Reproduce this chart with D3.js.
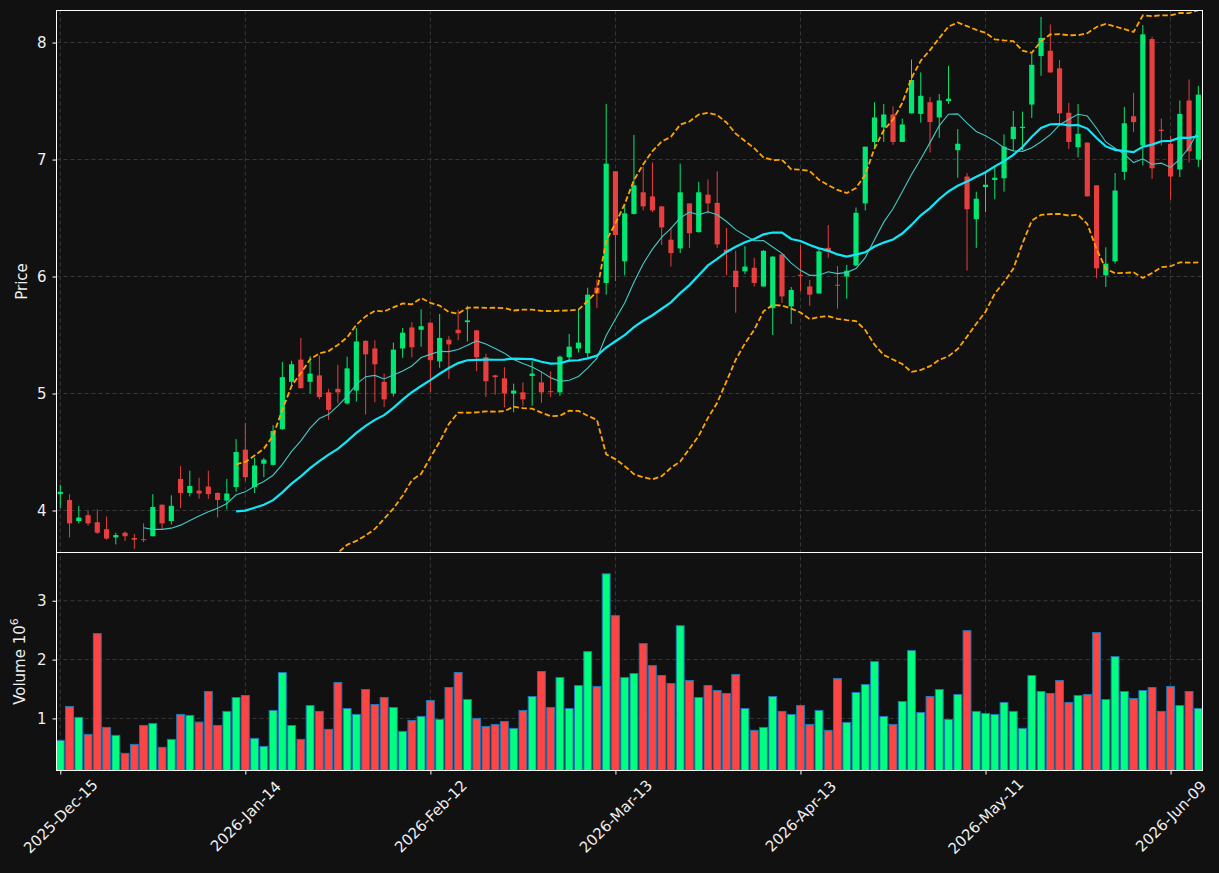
<!DOCTYPE html>
<html><head><meta charset="utf-8">
<script src="https://cdn.jsdelivr.net/npm/d3@7"></script>
<style>html,body{margin:0;padding:0;background:#111111;} svg{display:block;font-family:"DejaVu Sans",sans-serif;}</style>
</head><body><svg id="chart" width="1219" height="873"></svg>
<script>
// ---------- data ----------
const openP = [4.14,4.09,3.91,3.96,3.90,3.84,3.77,3.81,3.765,3.755,
3.78,4.05,3.91,4.27,4.15,4.17,4.205,4.15,4.085,4.20,
4.52,4.20,4.40,4.39,4.695,5.10,5.29,5.10,5.155,5.01,
5.04,4.915,5.025,5.45,5.385,5.10,5.00,5.385,5.565,5.545,
5.605,5.275,5.46,5.545,5.61,5.54,5.31,5.155,5.13,5.00,
5.01,5.15,5.095,5.02,5.01,5.31,5.385,5.345,5.905,5.945,
6.90,6.13,6.535,6.72,6.685,6.60,6.315,6.24,6.625,6.38,
6.70,6.63,6.23,6.05,6.045,6.075,5.915,5.73,6.19,5.745,
6.015,5.915,5.855,6.245,5.93,6.00,6.095,6.625,7.15,7.275,
7.385,7.15,7.395,7.39,7.49,7.36,7.50,7.08,6.855,6.49,
6.765,6.825,6.84,7.175,7.27,7.47,7.885,7.93,7.78,7.40,
7.105,7.145,6.78,6.01,6.13,6.895,7.37,7.12,8.03,7.255,
7.135,6.915,7.505,7.00];
const highP = [4.22,4.14,4.04,4.00,4.01,3.95,3.81,3.82,3.80,3.89,
4.14,4.05,4.13,4.38,4.34,4.28,4.34,4.155,4.27,4.61,
4.75,4.45,4.45,4.73,5.27,5.28,5.475,5.32,5.325,5.04,
5.245,5.315,5.56,5.455,5.455,5.17,5.435,5.56,5.61,5.72,
5.61,5.68,5.49,5.715,5.75,5.545,5.34,5.16,5.225,5.085,
5.095,5.275,5.19,5.19,5.325,5.51,5.72,5.905,5.975,7.475,
6.90,6.62,7.21,6.94,6.975,6.60,6.42,6.965,6.625,6.81,
6.83,6.90,6.415,6.22,6.26,6.16,6.225,6.175,6.19,5.91,
6.27,5.97,6.23,6.44,6.09,6.10,6.59,7.11,7.49,7.475,
7.455,7.35,7.855,7.745,7.535,7.56,7.80,7.26,6.885,6.725,
6.89,6.935,7.215,7.415,7.41,7.905,8.22,8.155,7.85,7.485,
7.475,7.145,6.78,6.25,6.885,7.45,7.57,8.15,8.05,7.35,
7.205,7.505,7.685,7.63];
const lowP = [4.02,3.77,3.89,3.87,3.80,3.75,3.71,3.74,3.67,3.73,
3.78,3.84,3.88,4.02,4.12,4.10,4.10,3.94,4.01,4.16,
4.25,4.15,4.285,4.385,4.69,5.07,5.045,5.00,4.95,4.775,
4.92,4.905,4.93,4.82,4.925,4.885,4.975,5.305,5.31,5.40,
5.01,5.22,5.125,5.455,5.445,5.19,4.97,4.99,4.88,4.84,
4.895,4.895,4.92,4.97,4.98,5.27,5.35,5.31,5.73,5.845,
5.96,6.01,6.53,6.565,6.55,6.27,6.085,6.20,6.245,6.375,
6.535,6.245,6.01,5.69,6.02,5.915,5.915,5.50,5.775,5.595,
5.875,5.75,5.855,6.16,5.725,5.81,6.09,6.565,7.10,7.15,
7.125,7.15,7.395,7.315,7.06,7.185,7.475,6.845,6.05,6.245,
6.55,6.66,6.725,7.08,7.08,7.355,7.715,7.74,7.285,7.09,
7.02,6.685,5.985,5.91,6.11,6.825,7.235,6.95,6.835,7.12,
6.655,6.85,6.975,6.935];
const closeP = [4.16,3.89,3.94,3.89,3.81,3.76,3.79,3.78,3.75,3.75,
4.03,3.89,4.04,4.15,4.21,4.145,4.14,4.09,4.145,4.50,
4.285,4.385,4.435,4.68,5.14,5.25,5.045,5.17,4.97,4.86,
5.01,5.215,5.445,5.335,5.25,4.95,5.375,5.52,5.395,5.575,
5.285,5.475,5.42,5.515,5.625,5.31,5.105,5.14,5.00,5.025,
4.95,5.17,5.01,5.015,5.315,5.40,5.435,5.845,5.855,6.965,
6.355,6.54,6.78,6.60,6.565,6.42,6.20,6.72,6.37,6.72,
6.625,6.275,6.205,5.91,6.085,5.945,6.22,6.17,5.83,5.885,
6.005,5.845,6.215,6.21,5.925,6.05,6.545,7.11,7.36,7.385,
7.15,7.30,7.68,7.545,7.32,7.505,7.52,7.135,6.575,6.665,
6.785,6.845,7.11,7.28,7.28,7.81,8.04,7.745,7.395,7.15,
7.22,6.685,6.07,6.11,6.735,7.31,7.32,8.07,6.925,7.245,
6.855,7.39,7.07,7.555];
const volume = [627000,1203000,1017000,729000,2441000,847000,712000,407000,559000,881000,
915000,508000,644000,1068000,1051000,938000,1458000,881000,1119000,1356000,
1390000,661000,525000,1136000,1780000,881000,644000,1220000,1119000,814000,
1610000,1169000,1068000,1492000,1237000,1356000,1186000,780000,966000,1034000,
1305000,983000,1525000,1780000,1322000,1000000,864000,898000,949000,831000,
1136000,1373000,1797000,1186000,1695000,1169000,1559000,2136000,1542000,3458000,
2746000,1695000,1763000,2271000,1898000,1729000,1593000,2576000,1644000,1356000,
1559000,1475000,1424000,1746000,1169000,797000,847000,1373000,1119000,1068000,
1220000,898000,1136000,797000,1678000,932000,1441000,1576000,1966000,1034000,
898000,1288000,2153000,1102000,1373000,1492000,983000,1407000,2492000,1119000,
1085000,1068000,1271000,1119000,831000,1729000,1458000,1424000,1644000,1271000,
1390000,1407000,2458000,1322000,2051000,1458000,1339000,1475000,1525000,1119000,
1542000,1220000,1458000,1169000];
const tickIndex = [0,20,40,60,80,100,120];
const tickLabels = ["2025-Dec-15","2026-Jan-14","2026-Feb-12","2026-Mar-13","2026-Apr-13","2026-May-11","2026-Jun-09"];
const priceTicks = [4,5,6,7,8];
const volumeTicks = [1000000,2000000,3000000];
const maShortLen = 10, maLongLen = 20, bbK = 2;

// ---------- derived series (rolling stats of close) ----------
const n = closeP.length;
function rollMean(arr, w){ return arr.map((_,i)=> i<w-1 ? null : d3.mean(arr.slice(i-w+1,i+1))); }
function rollStd(arr, w){ return arr.map((_,i)=> i<w-1 ? null : d3.deviation(arr.slice(i-w+1,i+1))); }
const maShort = rollMean(closeP, maShortLen);
const maLong = rollMean(closeP, maLongLen);
const sd = rollStd(closeP, maLongLen);
const bbUp = maLong.map((m,i)=> m==null?null:m+bbK*sd[i]);
const bbLo = maLong.map((m,i)=> m==null?null:m-bbK*sd[i]);
const data = d3.range(n).map(i=>({i,o:openP[i],h:highP[i],l:lowP[i],c:closeP[i],v:volume[i],up:closeP[i]>=openP[i]}));

// ---------- layout ----------
const svg = d3.select('#chart');
const left=56.5, right=1202.5, pTop=10.5, pBot=552.5, vBot=770.5;
const FS = '15px';
const x = d3.scaleLinear().domain([-0.41,123.45]).range([left,right]);
const y = d3.scaleLinear().domain([3.641,8.274]).range([pBot,pTop]);
const yv = d3.scaleLinear().domain([115000,3820000]).range([vBot,pBot]);
const upC='#00ff7f', dnC='#ff4444', txtC='#eeeeee', gridC='#3d3d3d';

svg.append('rect').attr('width',1219).attr('height',873).attr('fill','#111111');
const defs = svg.append('defs');
defs.append('clipPath').attr('id','pclip').append('rect').attr('x',left).attr('y',pTop).attr('width',right-left).attr('height',pBot-pTop);
defs.append('clipPath').attr('id','vclip').append('rect').attr('x',left).attr('y',pBot).attr('width',right-left).attr('height',vBot-pBot);

// grids
const grid = svg.append('g').attr('stroke',gridC).attr('stroke-width',0.9).attr('stroke-dasharray','4,3').attr('fill','none');
grid.selectAll('.gv').data(tickIndex).join('line').attr('x1',d=>x(d)).attr('x2',d=>x(d)).attr('y1',pTop).attr('y2',vBot);
grid.selectAll('.gp').data(priceTicks).join('line').attr('class','gp').attr('x1',left).attr('x2',right).attr('y1',d=>y(d)).attr('y2',d=>y(d));
grid.selectAll('.gw').data(volumeTicks).join('line').attr('class','gw').attr('x1',left).attr('x2',right).attr('y1',d=>yv(d)).attr('y2',d=>yv(d));

// candles
const bw = x(0.56)-x(0);
const cg = svg.append('g').attr('clip-path','url(#pclip)');
const cs = cg.selectAll('g.c').data(data).join('g').attr('opacity',0.9);
cs.append('line').attr('x1',d=>x(d.i)).attr('x2',d=>x(d.i)).attr('y1',d=>y(d.h)).attr('y2',d=>y(d.l))
  .attr('stroke',d=>d.up?upC:dnC).attr('stroke-width',1);
cs.append('rect').attr('x',d=>x(d.i)-bw/2).attr('width',bw)
  .attr('y',d=>y(Math.max(d.o,d.c))).attr('height',d=>Math.max(1,Math.abs(y(d.o)-y(d.c))))
  .attr('fill',d=>d.up?upC:dnC);

// overlay lines
const lineGen = d3.line().defined(d=>d!=null).x((d,i)=>x(i)).y(d=>y(d));
const lg = svg.append('g').attr('clip-path','url(#pclip)').attr('fill','none');
lg.append('path').datum(maShort).attr('d',lineGen).attr('stroke','#43c9c4').attr('stroke-width',1.1);
lg.append('path').datum(maLong).attr('d',lineGen).attr('stroke','#10e8fa').attr('stroke-width',2.2);
lg.append('path').datum(bbUp).attr('d',lineGen).attr('stroke','#ffa500').attr('stroke-width',1.8).attr('stroke-dasharray','5.5,2.6');
lg.append('path').datum(bbLo).attr('d',lineGen).attr('stroke','#ffa500').attr('stroke-width',1.8).attr('stroke-dasharray','5.5,2.6');

// volume bars
const vw = x(0.85)-x(0);
svg.append('g').attr('clip-path','url(#vclip)').selectAll('rect').data(data).join('rect')
  .attr('x',d=>x(d.i)-vw/2).attr('width',vw).attr('y',d=>yv(d.v)).attr('height',d=>vBot-yv(d.v))
  .attr('fill',d=>d.up?upC:dnC).attr('stroke','#1f77b4').attr('stroke-width',1);

// axes
function styleAxis(g){
  g.select('.domain').remove();
  g.selectAll('.tick line').attr('stroke','#ffffff');
  g.selectAll('.tick text').attr('fill',txtC).style('font-size',FS).style('font-family','"DejaVu Sans",sans-serif');
}
svg.append('g').attr('transform',`translate(${left},0)`)
  .call(d3.axisLeft(y).tickValues(priceTicks).tickSize(4).tickPadding(6).tickFormat(d3.format('d'))).call(styleAxis);
svg.append('g').attr('transform',`translate(${left},0)`)
  .call(d3.axisLeft(yv).tickValues(volumeTicks).tickSize(4).tickPadding(6).tickFormat(d=>d/1e6)).call(styleAxis);
const xa = svg.append('g').attr('transform',`translate(0,${vBot})`)
  .call(d3.axisBottom(x).tickValues(tickIndex).tickSize(4).tickFormat((d,i)=>tickLabels[i])).call(styleAxis);
xa.selectAll('.tick text').attr('y',0).attr('dy',null).attr('text-anchor','middle')
  .attr('dominant-baseline','central').attr('transform','translate(0,46) rotate(-45)');

// spines
const sp = svg.append('g').attr('fill','none').attr('stroke','#ffffff').attr('stroke-width',1);
sp.append('rect').attr('x',left).attr('y',pTop).attr('width',right-left).attr('height',pBot-pTop);
sp.append('rect').attr('x',left).attr('y',pBot).attr('width',right-left).attr('height',vBot-pBot);

// axis labels
svg.append('text').attr('transform',`translate(27,${(pTop+pBot)/2}) rotate(-90)`).attr('text-anchor','middle')
  .attr('fill',txtC).style('font-size',FS).text('Price');
const vl = svg.append('text').attr('transform',`translate(25,${(pBot+vBot)/2}) rotate(-90)`).attr('text-anchor','middle')
  .attr('fill',txtC).style('font-size',FS);
vl.append('tspan').text('Volume  10');
vl.append('tspan').attr('dy',-7).style('font-size','11px').text('6');
</script></body></html>
